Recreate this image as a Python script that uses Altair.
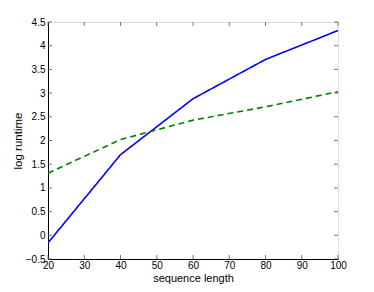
import altair as alt
import pandas as pd

seq_len = [20, 40, 60, 80, 100]
blue_vals = [-0.16, 1.70, 2.88, 3.71, 4.32]
green_vals = [1.31, 2.02, 2.43, 2.71, 3.03]
x_ticks = [20, 30, 40, 50, 60, 70, 80, 90, 100]
y_ticks = [-0.5, 0, 0.5, 1, 1.5, 2, 2.5, 3, 3.5, 4, 4.5]

rows = []
for x, b, g in zip(seq_len, blue_vals, green_vals):
    rows.append({"n": x, "v": b, "s": "A"})
    rows.append({"n": x, "v": g, "s": "B"})
df = pd.DataFrame(rows)

W, H = 290, 237
FONT = "Liberation Sans"

xs = alt.Scale(domain=[20, 100], nice=False, zero=False)
ys = alt.Scale(domain=[-0.5, 4.5], nice=False, zero=False)

xaxis = alt.Axis(values=x_ticks, format="d", ticks=False, grid=False,
                 labelFlush=False, labelOverlap=False,
                 domainColor="black", labelFontSize=10, labelFont=FONT,
                 labelColor="black", labelPadding=1.5, titleFont=FONT,
                 titleFontSize=11, titleFontWeight="normal", titleColor="black",
                 titleBaseline="alphabetic", titleY=22)
yaxis = alt.Axis(values=y_ticks, format="~g", ticks=False, grid=False,
                 labelFlush=False, labelOverlap=False,
                 domainColor="black", labelFontSize=10, labelFont=FONT,
                 labelColor="black", labelPadding=3, titleFont=FONT,
                 titleFontSize=11.5, titleFontWeight="normal", titleColor="black",
                 titleBaseline="alphabetic", titleX=-27)
XT = "sequence length"
YT = "log runtime"

lines = alt.Chart(df).mark_line(strokeWidth=1.6, clip=True).encode(
    x=alt.X("n:Q", scale=xs, title=XT, axis=xaxis),
    y=alt.Y("v:Q", scale=ys, title=YT, axis=yaxis),
    color=alt.Color("s:N", scale=alt.Scale(domain=["A", "B"], range=["#0000ff", "#008000"]), legend=None),
    strokeDash=alt.StrokeDash("s:N", scale=alt.Scale(domain=["A", "B"], range=[[1, 0], [6, 4]]), legend=None),
)

ydf = pd.DataFrame({"n": y_ticks})
xdf = pd.DataFrame({"n": x_ticks})
tl = 4
rule = dict(color="#555", strokeWidth=0.8)
yl = alt.Chart(ydf).mark_rule(**rule).encode(
    y=alt.Y("n:Q", scale=ys, title=YT, axis=yaxis), x=alt.value(0), x2=alt.value(tl))
yr = alt.Chart(ydf).mark_rule(**rule).encode(
    y=alt.Y("n:Q", scale=ys, title=YT, axis=yaxis), x=alt.value(W - tl), x2=alt.value(W))
xb = alt.Chart(xdf).mark_rule(**rule).encode(
    x=alt.X("n:Q", scale=xs, title=XT, axis=xaxis), y=alt.value(H - tl), y2=alt.value(H))
xt = alt.Chart(xdf).mark_rule(**rule).encode(
    x=alt.X("n:Q", scale=xs, title=XT, axis=xaxis), y=alt.value(0), y2=alt.value(tl))

chart = alt.layer(yl, yr, xb, xt, lines).properties(
    width=W, height=H,
    autosize=alt.AutoSizeParams(type="none"),
    padding={"left": 40, "top": 14, "right": 20, "bottom": 25},
).configure_view(stroke="black", strokeWidth=1).configure(background="white")

chart.save("out.html", embed_options={"renderer": "svg", "actions": False})
